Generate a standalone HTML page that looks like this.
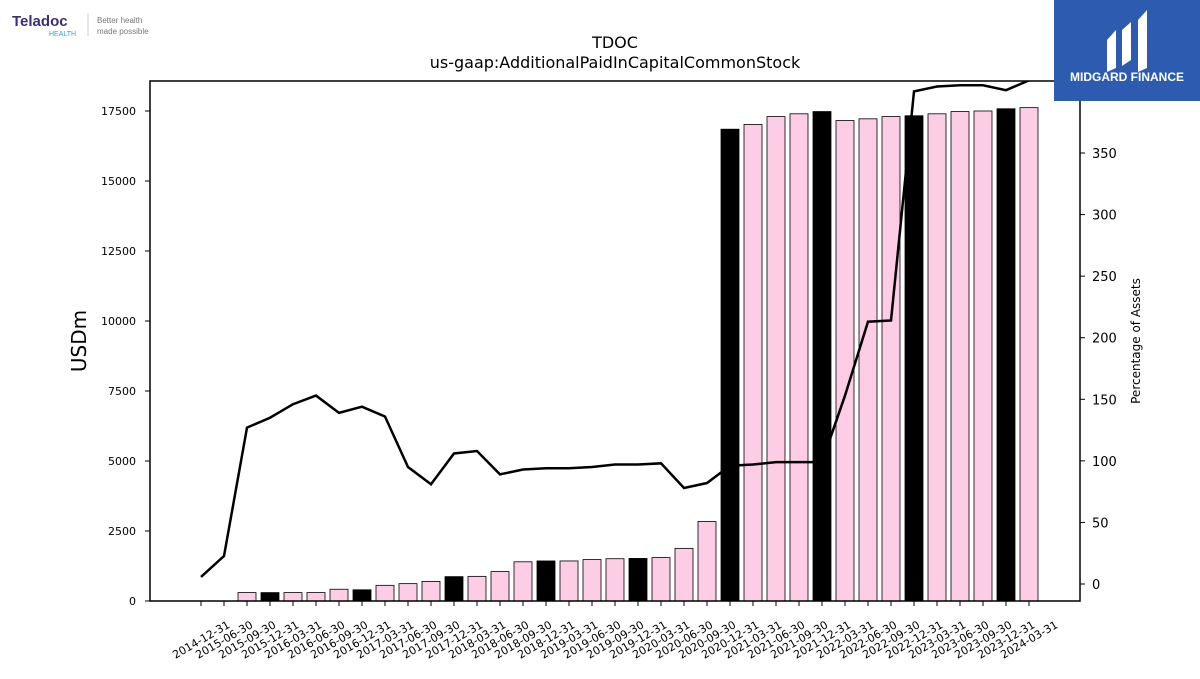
<!DOCTYPE html>
<html><head><meta charset="utf-8"><style>
body{margin:0;background:#fff;width:1200px;height:675px;overflow:hidden;font-family:"DejaVu Sans","Liberation Sans",sans-serif}
</style></head><body>
<svg id="c" width="1200" height="675" xmlns="http://www.w3.org/2000/svg">
<g>
<text x="12" y="26" font-size="15" font-weight="bold" fill="#3a2f7a" font-family="Liberation Sans, sans-serif">Teladoc</text>
<text x="49" y="36" font-size="7" fill="#2aa8d8" font-family="Liberation Sans, sans-serif">HEALTH</text>
<line x1="88" y1="13" x2="88" y2="36" stroke="#ccc"/>
<text x="97" y="23" font-size="8" fill="#777" font-family="Liberation Sans, sans-serif">Better health</text>
<text x="97" y="34" font-size="8" fill="#777" font-family="Liberation Sans, sans-serif">made possible</text>
</g>
<text x="615" y="48" font-size="16" text-anchor="middle">TDOC</text>
<text x="615" y="68" font-size="16" text-anchor="middle">us-gaap:AdditionalPaidInCapitalCommonStock</text>
<g id="bars"></g><g id="line"></g><g id="axes"></g>
<rect x="150" y="81" width="930" height="520" fill="none" stroke="#000" stroke-width="1.5"/>
<text transform="translate(86,341) rotate(-90)" font-size="20" text-anchor="middle">USDm</text>
<text transform="translate(1140,341) rotate(-90)" font-size="12" text-anchor="middle">Percentage of Assets</text>
<g>
<rect x="1054" y="0" width="146" height="101" fill="#2d5bb0"/>
<path d="M1107 40 L1116 30 L1116 68 L1107 72Z M1122 30 L1131 22 L1131 60 L1122 66Z M1138 20 L1147 10 L1147 68 L1138 72Z" fill="#fff"/>
<text x="1127" y="81" font-size="12" font-weight="bold" fill="#fff" text-anchor="middle" font-family="Liberation Sans, sans-serif">MIDGARD FINANCE</text>
</g>
</svg>
<script>
const categories=["2014-12-31","2015-06-30","2015-09-30","2015-12-31","2016-03-31","2016-06-30","2016-09-30","2016-12-31","2017-03-31","2017-06-30","2017-09-30","2017-12-31","2018-03-31","2018-06-30","2018-09-30","2018-12-31","2019-03-31","2019-06-30","2019-09-30","2019-12-31","2020-03-31","2020-06-30","2020-09-30","2020-12-31","2021-03-31","2021-06-30","2021-09-30","2021-12-31","2022-03-31","2022-06-30","2022-09-30","2022-12-31","2023-03-31","2023-06-30","2023-09-30","2023-12-31","2024-03-31"];
const apicValues=[0,0,300,300,300,300,420,400,560,620,700,870,880,1050,1400,1430,1430,1480,1510,1520,1550,1880,2840,16850,17020,17300,17400,17480,17160,17220,17300,17330,17400,17480,17500,17580,17620];
const pctValues=[5.7,22.7,127,135,146,153,139,144,136,95,81,106,108,89,93,94,94,95,97,97,98,78,82,96,97,99,99,99,153,213,214,400,404,405,405,401,409];
const leftTicks=[0,2500,5000,7500,10000,12500,15000,17500];
const rightTicks=[0,50,100,150,200,250,300,350];
const NS="http://www.w3.org/2000/svg";
const X=i=>201+i*23;
const Y=v=>601-v*0.028;
const Y2=v=>584-v*1.2314;
function mk(t,a,p){const e=document.createElementNS(NS,t);for(const k in a)e.setAttribute(k,a[k]);p.appendChild(e);return e;}
const bars=document.getElementById('bars'),line=document.getElementById('line'),axes=document.getElementById('axes');
categories.forEach((c,i)=>{
 if(apicValues[i]>0){
  const annual=c.endsWith('12-31');
  const r=mk('rect',{x:X(i)-9,y:Y(apicValues[i]),width:18,height:601-Y(apicValues[i]),fill:annual?'#000':'#fdcce5',stroke:'#000','stroke-width':0.8},bars);
  
  
 }
 mk('line',{x1:X(i),y1:601,x2:X(i),y2:606,stroke:'#000'},axes);
 const t=mk('text',{x:0,y:0,'font-size':11,'text-anchor':'middle',transform:`translate(${X(i)+2},${643}) rotate(-30)`},axes);
 t.textContent=c;
 
 
});
mk('clipPath',{id:'cp'},line);
mk('rect',{x:150,y:81,width:930,height:520},document.getElementById('cp'));
const pl=mk('polyline',{points:pctValues.map((v,i)=>X(i)+','+Y2(v)).join(' '),fill:'none',stroke:'#000','stroke-width':2.5,'clip-path':'url(#cp)'},line);


leftTicks.forEach(v=>{
 mk('line',{x1:145,y1:Y(v),x2:150,y2:Y(v),stroke:'#000'},axes);
 const t=mk('text',{x:136,y:Y(v)+4,'font-size':11,'text-anchor':'end'},axes);t.textContent=v;
 
 
});
rightTicks.forEach(v=>{
 mk('line',{x1:1080,y1:Y2(v),x2:1085,y2:Y2(v),stroke:'#000'},axes);
 const t=mk('text',{x:1092,y:Y2(v)+5,'font-size':13},axes);t.textContent=v;
 
 
});
</script>
</body></html>
